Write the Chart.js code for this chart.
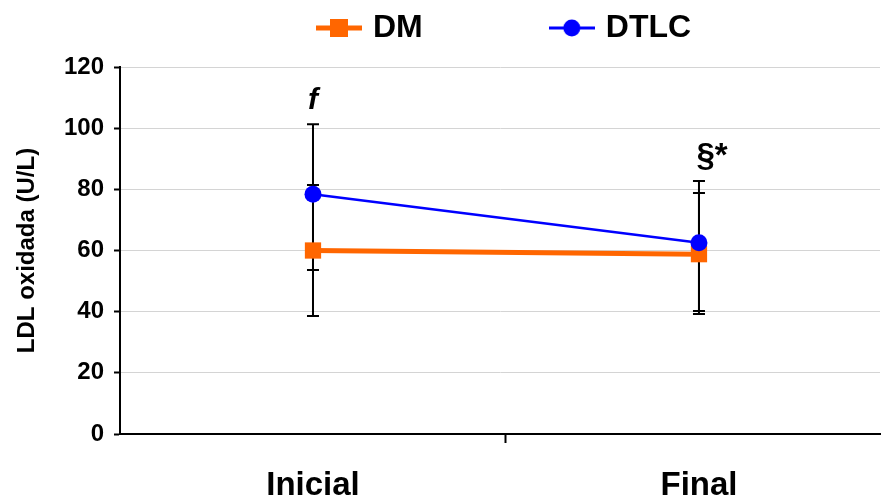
<!DOCTYPE html>
<html>
<head>
<meta charset="utf-8">
<script src="https://cdn.jsdelivr.net/npm/chart.js@4.4.1/dist/chart.umd.min.js"></script>
<style>
  html, body { margin: 0; padding: 0; background: #fff; }
  #wrap { width: 883px; height: 497px; position: relative; }
</style>
</head>
<body>
<div id="wrap"><canvas id="ldlChart"></canvas></div>
<script>
// data
const periods = ['Inicial', 'Final'];
const dmValues = [60, 58.8];
const dtlcValues = [78.4, 62.5];
const dmLow = [38.6, 39.2];
const dmHigh = [81.4, 78.8];
const dtlcLow = [53.6, 40.2];
const dtlcHigh = [101.3, 82.7];
const sigMarks = ['f', '§*'];
const sigFonts = ['italic bold 30px Arial, "Liberation Sans", sans-serif', 'bold 33px Arial, "Liberation Sans", sans-serif'];

const FONT = 'Arial, "Liberation Sans", sans-serif';
const ORANGE = '#FF6600';
const BLUE = '#0000FF';

function legendMarker(color, lineW, shape) {
    const c = document.createElement('canvas');
    c.width = 46;
    c.height = 22;
    const g = c.getContext('2d');
    g.strokeStyle = color;
    g.lineWidth = lineW;
    g.beginPath();
    g.moveTo(0, 11);
    g.lineTo(46, 11);
    g.stroke();
    g.fillStyle = color;
    if (shape === 'rect') {
        g.fillRect(14, 2, 18, 18);
    } else {
        g.beginPath();
        g.arc(23, 11, 8.5, 0, Math.PI * 2);
        g.fill();
    }
    return c;
}
const markers = [legendMarker(ORANGE, 5, 'rect'), legendMarker(BLUE, 3, 'circle')];

const LEGEND_PAD = 131;

// keeps the legend a fixed height and moves it where the reference has it
const legendSpread = {
    id: 'legendSpread',
    beforeLayout(chart) {
        const lg = chart.legend;
        if (lg && !lg._fixed) {
            const fit = lg.fit;
            lg.fit = function () { fit.call(this); this.height = 67; };
            lg._fixed = true;
        }
    },
    afterLayout(chart) {
        const lg = chart.legend;
        lg.left = 321 - LEGEND_PAD;
        lg.top = 12 - LEGEND_PAD;
    }
};

// whiskers, drawn under the lines
const errorBars = {
    id: 'errorBars',
    beforeDatasetsDraw(chart) {
        const { ctx, scales: { x, y } } = chart;
        const sets = [[dmLow, dmHigh], [dtlcLow, dtlcHigh]];
        ctx.save();
        ctx.strokeStyle = '#000';
        ctx.lineWidth = 2;
        sets.forEach(([lo, hi]) => {
            periods.forEach((_, i) => {
                const px = x.getPixelForValue(i);
                const top = y.getPixelForValue(hi[i]);
                const bot = y.getPixelForValue(lo[i]);
                ctx.beginPath();
                ctx.moveTo(px, top); ctx.lineTo(px, bot);
                ctx.moveTo(px - 6, top); ctx.lineTo(px + 6, top);
                ctx.moveTo(px - 6, bot); ctx.lineTo(px + 6, bot);
                ctx.stroke();
            });
        });
        ctx.restore();
    },
    afterDatasetsDraw(chart) {
        const { ctx, scales: { x, y } } = chart;
        ctx.save();
        ctx.fillStyle = '#000';
        ctx.textAlign = 'center';
        ctx.textBaseline = 'bottom';
        periods.forEach((_, i) => {
            const top = Math.max(dmHigh[i], dtlcHigh[i]);
            ctx.font = sigFonts[i];
            ctx.fillText(sigMarks[i], x.getPixelForValue(i) + (i === 0 ? 0 : 13), y.getPixelForValue(top) - 8);
        });
        ctx.restore();
    }
};

new Chart(document.getElementById('ldlChart'), {
    type: 'line',
    data: {
        datasets: [{
            label: 'DM',
            data: dmValues.map((v, i) => ({ x: i, y: v })),
            borderColor: ORANGE,
            backgroundColor: ORANGE,
            borderWidth: 5,
            pointStyle: 'rect',
            pointRadius: 11.5,
            pointHoverRadius: 11.5,
            pointBorderWidth: 0,
            order: 1
        }, {
            label: 'DTLC',
            data: dtlcValues.map((v, i) => ({ x: i, y: v })),
            borderColor: BLUE,
            backgroundColor: BLUE,
            borderWidth: 2.5,
            pointStyle: 'circle',
            pointRadius: 8.5,
            pointHoverRadius: 8.5,
            pointBorderWidth: 0,
            order: 0
        }]
    },
    options: {
        responsive: true,
        maintainAspectRatio: false,
        animation: false,
        layout: { autoPadding: false, padding: { left: 0, right: 3, top: 0, bottom: 0 } },
        plugins: {
            tooltip: { enabled: false },
            legend: {
                position: 'top',
                align: 'start',
                labels: {
                    usePointStyle: true,
                    pointStyleWidth: 36,
                    padding: LEGEND_PAD,
                    color: '#000',
                    font: { family: FONT, size: 32, weight: 'bold' },
                    sort: (a, b) => a.datasetIndex - b.datasetIndex,
                    generateLabels: chart => chart.data.datasets.map((ds, i) => ({
                        text: ds.label,
                        pointStyle: markers[i],
                        fillStyle: ds.borderColor,
                        strokeStyle: ds.borderColor,
                        lineWidth: 0,
                        fontColor: '#000',
                        hidden: false,
                        datasetIndex: i
                    }))
                }
            }
        },
        scales: {
            x: {
                type: 'linear',
                min: -0.5,
                max: 1.469,
                afterBuildTicks: s => {
                    s.ticks = [0, 0.5, 1].map(v => ({ value: v }));
                },
                afterFit: s => {
                    s.height = 63;
                    s.paddingLeft = 0;
                    s.paddingRight = 0;
                },
                border: { color: '#000', width: 2 },
                grid: {
                    drawOnChartArea: false,
                    tickLength: 9,
                    tickWidth: 2,
                    tickColor: c => (c.tick && c.tick.value === 0.5) ? '#000' : 'rgba(0,0,0,0)'
                },
                ticks: {
                    autoSkip: false,
                    maxRotation: 0,
                    padding: 23,
                    color: '#000',
                    font: { family: FONT, size: 33, weight: 'bold' },
                    callback: v => Number.isInteger(v) ? periods[v] : ''
                }
            },
            y: {
                min: 0,
                max: 120,
                afterFit: s => { s.width = 120; },
                border: { color: '#000', width: 2 },
                grid: {
                    color: '#d4d4d4',
                    lineWidth: 1,
                    tickLength: 6,
                    tickWidth: 2,
                    tickColor: '#000'
                },
                ticks: {
                    stepSize: 20,
                    padding: 10,
                    color: '#000',
                    font: { family: FONT, size: 24, weight: 'bold' }
                },
                title: {
                    display: true,
                    text: 'LDL oxidada (U/L)',
                    color: '#000',
                    padding: { top: 13, bottom: 0 },
                    font: { family: FONT, size: 24, weight: 'bold' }
                }
            }
        }
    },
    plugins: [legendSpread, errorBars]
});
</script>
</body>
</html>
